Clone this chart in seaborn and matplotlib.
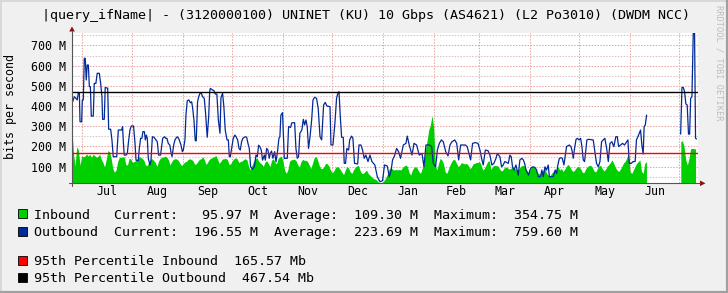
import numpy as np
import pandas as pd
import matplotlib
matplotlib.use("Agg")
import matplotlib.pyplot as plt
import matplotlib.ticker as mticker
from matplotlib.patches import Rectangle, Polygon
from matplotlib.lines import Line2D
import seaborn as sns

# ---------------- data ----------------
title = "|query_ifName| - (3120000100) UNINET (KU) 10 Gbps (AS4621) (L2 Po3010) (DWDM NCC)"
period_start = "2020-07-01"          # day 0 of the series
view_from_day, view_to_day = -5.9, 376.5

month_labels = ["Jul", "Aug", "Sep", "Oct", "Nov", "Dec",
                "Jan", "Feb", "Mar", "Apr", "May", "Jun"]

# inbound, daily averages in Mbit/s (two segments, gap in June)
inbound_a_first_day = -6
inbound_a = [
    298, 166, 103, 199, 182, 106,
    152, 149, 152, 162, 152, 161, 146, 161, 154, 146,
    151, 161, 136, 120, 98, 136, 179, 174, 141, 91,
    72, 83, 125, 146, 146, 147, 149, 110, 108, 141,
    138, 120, 125, 129, 141, 149, 146, 141, 131, 108,
    105, 120, 136, 139, 131, 120, 101, 128, 141, 147,
    147, 152, 147, 133, 108, 125, 136, 139, 138, 131,
    116, 105, 114, 123, 126, 135, 139, 135, 129, 111,
    114, 126, 136, 139, 149, 133, 110, 123, 136, 142,
    146, 149, 156, 136, 116, 126, 138, 139, 141, 135,
    111, 113, 129, 139, 144, 138, 120, 125, 128, 135,
    139, 133, 100, 83, 106, 126, 138, 144, 129, 118,
    113, 101, 123, 129, 116, 100, 131, 139, 123, 113,
    141, 147, 152,
    126, 83, 66, 86, 128, 133, 136,
    136, 129, 108, 98, 125, 136, 131, 131, 125, 108,
    91, 116, 143, 151, 136, 108, 91, 90, 100, 116,
    114, 103, 83, 70, 78, 95, 100, 96, 85, 72,
    60, 83, 100, 93, 75, 66, 83, 96, 103, 106,
    83, 66, 66, 75, 83, 66, 58, 50, 42, 39,
    34, 25, 20, 20, 25, 34, 50, 66, 91, 95,
    86, 83, 86, 83, 86, 83, 96, 103, 108, 100,
    70, 58, 83, 96, 100, 91, 75, 66, 91, 108,
    182, 228, 281, 306, 352, 298, 108, 83, 116, 141,
    133, 116, 75, 66, 86, 108, 125, 136, 133, 116,
    100, 108, 120, 116, 113, 116, 108, 91, 96, 113,
    116, 120, 120, 125, 108, 83, 91, 108, 125, 129,
    86, 100, 106, 105, 105, 93, 80, 80, 93, 98,
    95, 88, 90, 98, 95, 88, 83, 86, 100, 105,
    106, 96, 80, 70, 86, 100, 101, 90, 73, 66,
    63, 75, 83, 91, 66, 58, 53, 66, 75, 83,
    83, 100, 83, 91, 76, 86, 100, 111, 103, 86,
    76, 81, 93, 101, 98, 86, 70, 72, 91, 100,
    106, 106, 95, 78, 73, 90, 103, 106, 90, 78,
    86, 101, 110, 120, 133, 116, 96, 83, 76, 86,
    101, 118, 126, 143, 166, 75, 66, 83, 100, 116,
    125, 133, 76, 66, 116, 125,
]
inbound_b_first_day = 366
inbound_b = [224, 228, 199, 133, 108, 141, 189, 190, 189, 187]

# outbound, (day, Mbit/s) vertices of the line, two segments
out_days_a = [
    -5.5, -4.5, -3.5, -2.7, -2.1, -1.4, -1.0, 0.0, 0.4, 1.0, 1.6, 2.2, 2.8, 3.4, 4.1, 4.7,
    5.3, 5.9, 7.1, 7.7, 8.7, 9.5, 10.8, 11.6, 12.4, 12.8, 13.8, 14.4, 15.9, 16.5, 17.7,
    18.5, 19.3, 21.4, 22.4, 24.4, 25.0, 25.4, 26.0, 27.1, 27.9, 28.5, 29.5, 30.3, 31.7,
    32.6, 33.2, 34.6, 35.2, 36.0, 36.8, 37.4, 38.3, 38.9, 39.5, 40.1, 40.7, 41.7, 42.3,
    43.2, 44.2, 45.4, 46.2, 47.0, 48.2, 49.5, 50.7, 51.3, 52.1, 52.9, 53.9, 54.5, 55.2,
    56.2, 57.0, 57.6, 58.4, 59.2, 60.0, 60.7, 61.5, 62.1, 63.1, 63.7, 64.5, 65.5, 66.4,
    67.2, 67.8, 68.6, 69.4, 70.0, 70.8, 71.5, 72.3, 73.1, 73.9, 74.9, 75.7, 76.7, 77.6,
    78.2, 78.6, 80.0, 80.8, 81.6, 82.6, 83.5, 84.5, 85.1, 86.1, 86.9, 87.7, 88.8, 89.6,
    90.2, 90.8, 91.6, 92.6, 93.6, 94.3, 95.3, 96.1, 96.9, 97.7, 98.5, 99.3, 100.2, 100.8,
    101.6, 102.4, 103.2, 104.4, 105.5, 106.5, 107.3, 108.1, 108.9, 109.7, 110.5, 111.6,
    112.2, 113.0, 113.8, 114.6, 115.2, 116.0, 116.8, 117.9, 118.7, 119.5, 120.5, 121.1,
    121.7,
    122.7, 123.8, 125.6, 126.4, 127.6, 128.4, 130.1, 130.9, 131.7, 132.5, 133.3, 134.5,
    135.4, 136.2, 137.0, 137.8, 138.6, 139.5, 140.5, 141.3, 142.3, 143.5, 144.5, 145.6,
    146.6, 147.8, 148.8, 149.8, 151.7, 152.3, 153.5, 154.7, 155.7, 156.5, 157.2, 158.0,
    158.8, 159.8, 160.4, 161.2, 162.0, 163.1, 163.7, 164.9, 165.7, 166.7, 168.6, 169.4,
    170.6, 171.6, 172.6, 173.6, 174.9, 176.1, 177.3, 179.1, 180.6, 182.2, 183.8, 185.0,
    186.7, 187.9, 189.1, 189.9, 191.1, 192.4, 193.6, 194.8, 196.5, 198.1, 198.9, 200.1,
    201.8, 203.0, 204.6, 206.2, 207.9, 209.1, 210.3, 212.4, 213.8, 214.8, 216.2, 217.3,
    218.5, 219.7, 220.9, 222.4, 223.8, 225.0, 226.2, 227.9, 229.1, 230.3, 231.5, 234.4,
    235.5, 236.8, 237.6, 238.8, 240.4, 242.1, 243.3, 244.3, 245.3, 246.6, 248.2,
    249.4, 250.6, 251.8, 253.1, 253.9, 254.7, 255.5, 256.5, 257.5, 258.5, 260.6, 261.6,
    262.4, 263.2, 264.1, 265.3, 266.7, 267.7, 268.9, 269.8, 270.6, 271.4, 273.0, 273.8,
    274.8, 275.9, 276.9, 277.9, 278.9, 280.3, 281.1, 282.0, 283.0, 284.0, 285.0, 285.7,
    288.1, 289.3, 290.1, 290.9, 291.8, 292.8, 293.6, 294.6, 296.2, 296.8, 297.9, 298.9,
    299.7, 300.3, 301.1, 302.0, 302.8, 303.8, 304.8, 305.6, 306.4, 307.2, 308.0, 308.6,
    309.7, 312.5, 313.5, 314.5, 315.6, 316.6, 317.6, 318.6, 319.6, 320.7, 321.7, 322.7,
    323.9, 325.1, 326.3, 327.2, 328.0, 329.2, 330.4, 331.6, 332.9, 333.7, 334.5, 335.7,
    336.9, 338.1, 338.9, 339.8, 340.6, 341.4, 342.2, 343.0, 343.6, 344.3, 345.1,
]
out_vals_a = [
    421, 446, 438, 430, 463, 463, 322, 322, 430, 430, 636, 636, 529, 603, 603, 496,
    496, 350, 350, 512, 512, 562, 562, 512, 446, 334, 334, 492, 488, 285, 285,
    232, 149, 149, 281, 281, 298, 232, 157, 157, 165, 215, 281, 301, 301,
    215, 132, 129, 190, 240, 240, 273, 273, 232, 256, 240, 141, 108, 125,
    248, 245, 232, 223, 157, 157, 240, 248, 240, 240, 215, 206, 174, 149,
    206, 232, 240, 248, 240, 223, 206, 174, 182, 232, 355, 426, 430, 416,
    421, 389, 331, 228, 228, 421, 446, 463, 463, 446, 438, 364, 245, 348,
    471, 487, 479, 476, 459, 459, 331, 265, 442, 463, 393, 281, 232, 232,
    149, 149, 190, 240, 256, 248, 232, 190, 182, 223, 240, 245, 248, 245,
    215, 190, 100, 86, 100, 157, 149, 206, 198, 182, 132, 157,
    132, 190, 182, 141, 165, 177, 141, 174, 124, 165, 240, 248,
    355,
    367, 141, 141, 298, 294, 317, 317, 190, 141, 149, 265, 281,
    334, 306, 331, 298, 190, 248, 331, 430, 443, 438, 388, 248,
    232, 405, 418, 400, 397, 207, 207, 314, 438, 463, 471, 347,
    245, 245, 116, 116, 190, 182, 232, 251, 240, 116, 113, 207,
    207, 182, 141, 157, 125, 157, 125, 108, 50, 25, 30, 108,
    103, 50, 83, 133, 153, 190, 174, 141, 207, 215, 251, 207,
    157, 215, 207, 157, 165, 99, 207, 207, 199, 116, 99, 182,
    215, 232, 223, 174, 153, 207, 223, 232, 215, 133, 207, 207,
    199, 157, 133, 215, 219, 215, 182, 141, 108, 182, 179,
    157, 108, 116, 141, 165, 157, 149, 99, 108, 125, 116, 157,
    149, 99, 83, 108, 58, 133, 141, 133, 116, 83, 58, 83,
    96, 99, 96, 83, 50, 50, 83, 50, 99, 83, 108, 50,
    50, 83, 66, 108, 141, 144, 141, 108, 199, 202, 207, 199,
    174, 141, 190, 235, 240, 232, 240, 199, 133, 125, 182, 232,
    235, 232, 174, 116, 99, 125, 223, 232, 240, 190, 125, 215,
    223, 199, 248, 248, 199, 207, 215, 207, 223, 232, 116, 116,
    125, 125, 232, 248, 265, 281, 207, 162, 298, 306, 355,
]
out_days_b = [365.9, 366.7, 367.5, 368.3, 369.1, 369.9, 370.7, 371.4, 372.0, 372.8,
              373.6, 374.4, 375.0, 375.6]
out_vals_b = [261, 492, 492, 471, 410, 405, 261, 261, 438, 446, 760, 760, 240, 237]

p95_inbound = 165.57
p95_outbound = 467.54
inbound_stats = (95.97, 109.30, 354.75)    # current, average, maximum
outbound_stats = (196.55, 223.69, 759.60)
y_view = (17.3, 763.0)
y_label_ticks = [100, 200, 300, 400, 500, 600, 700]
y_minor_ticks = [50, 150, 250, 350, 450, 550, 650, 750]

# ---------------- figure ----------------
W, H, DPI = 728, 293, 100
MONO = "DejaVu Sans Mono"
BG = "#F0F0F0"
GREEN, BLUE, RED = "#00CF00", "#002A97", "#FF0000"

sns.set_theme(style="white")
plt.rcParams["font.family"] = [MONO, "DejaVu Sans"]


def fx(px):
    return px / W


def fy(py):
    return 1 - py / H


t0 = pd.Timestamp(period_start)


def to_date(days):
    return t0 + pd.to_timedelta(np.asarray(days, dtype=float), unit="D")


fig = plt.figure(figsize=(W / DPI, H / DPI), dpi=DPI, facecolor=BG)
AX_L, AX_R, AX_T, AX_B = 72, 698, 32.7, 183.3
ax = fig.add_axes([fx(AX_L), fy(AX_B), (AX_R - AX_L) / W, (AX_B - AX_T) / H])
ax.set_facecolor("white")

# inbound area
for first, vals in ((inbound_a_first_day, inbound_a), (inbound_b_first_day, inbound_b)):
    d = to_date(np.arange(first, first + len(vals)))
    ax.fill_between(d, y_view[0], vals, color=GREEN, linewidth=0, zorder=2)

# outbound line
out_df = pd.concat([
    pd.DataFrame({"date": to_date(out_days_a), "mbps": out_vals_a, "seg": 0}),
    pd.DataFrame({"date": to_date(out_days_b), "mbps": out_vals_b, "seg": 1}),
])
sns.lineplot(data=out_df, x="date", y="mbps", units="seg", estimator=None,
             sort=False, color=BLUE, linewidth=0.9, ax=ax, zorder=3, legend=False)

# percentile rules
ax.axhline(p95_inbound, color=RED, lw=1.0, zorder=4)
ax.axhline(p95_outbound, color="black", lw=1.0, zorder=4)

ax.set_xlim(to_date(view_from_day), to_date(view_to_day))
ax.set_ylim(*y_view)

# grid
month_starts = pd.date_range(t0, periods=len(month_labels) + 1, freq="MS")
mid_months = [a + (b - a) / 2 for a, b in zip(month_starts[:-1], month_starts[1:])]
ax.xaxis.set_major_locator(mticker.FixedLocator(matplotlib.dates.date2num(month_starts)))
ax.xaxis.set_major_formatter(mticker.NullFormatter())
ax.xaxis.set_minor_locator(mticker.FixedLocator(matplotlib.dates.date2num(mid_months)))
ax.xaxis.set_minor_formatter(mticker.FixedFormatter(month_labels))
ax.yaxis.set_major_locator(mticker.FixedLocator(y_label_ticks))
ax.yaxis.set_major_formatter(mticker.FuncFormatter(lambda v, p: f"{v:.0f} M"))
ax.yaxis.set_minor_locator(mticker.FixedLocator(y_minor_ticks))

dot = (0, (1.4, 1.4))
ax.grid(True, which="major", axis="both", color="#E9A5A5", lw=0.75, ls=dot, zorder=1)
ax.grid(True, which="minor", axis="y", color="#DCC4C4", lw=0.75, ls=dot, zorder=1)
ax.grid(False, which="minor", axis="x")
ax.set_axisbelow(True)

ax.tick_params(axis="x", which="major", length=2.5, width=0.7, color="#E07070", direction="out")
ax.tick_params(axis="x", which="minor", length=0, pad=1.5, labelsize=8.4, labelcolor="black")
ax.tick_params(axis="y", which="both", length=0, pad=4.2, labelsize=8.4, labelcolor="black")
for lab in ax.get_xticklabels(minor=True) + ax.get_yticklabels():
    lab.set_fontfamily(MONO)
ax.set_xlabel("")
ax.set_ylabel("")
for s in ax.spines.values():
    s.set_visible(False)

# axis lines and arrows (figure pixel coordinates)
AXC = "#555555"
fig.add_artist(Line2D([fx(69), fx(700)], [fy(AX_B), fy(AX_B)], color=AXC, lw=0.8))
fig.add_artist(Line2D([fx(AX_L), fx(AX_L)], [fy(186), fy(31)], color=AXC, lw=0.8))
ARC = "#8B1010"
fig.add_artist(Polygon([[fx(AX_L), fy(26.5)], [fx(AX_L - 2.8), fy(31.5)], [fx(AX_L + 2.8), fy(31.5)]],
                       closed=True, color=ARC, lw=0))
fig.add_artist(Polygon([[fx(705.5), fy(AX_B)], [fx(700), fy(AX_B - 2.8)], [fx(700), fy(AX_B + 2.8)]],
                       closed=True, color=ARC, lw=0))

# texts
fig.text(fx(366), fy(19), title, ha="center", va="baseline", fontsize=9.6,
         family=MONO, color="black")
fig.text(fx(11), fy(106.5), "bits per second", rotation=90, ha="center", va="center",
         fontsize=8.4, family=MONO, color="black")
fig.text(fx(719), fy(5), "RRDTOOL / TOBI OETIKER", rotation=270, ha="center", va="top",
         fontsize=6.2, family=MONO, color="#BDBDBD")


def stat_line(name, st):
    return (f"{name:<10}Current:{st[0]:>8.2f} M  Average:{st[1]:>8.2f} M"
            f"  Maximum:{st[2]:>8.2f} M")


legend_rows = [
    (213.7, GREEN, stat_line("Inbound", inbound_stats)),
    (231.0, BLUE, stat_line("Outbound", outbound_stats)),
    (260.5, RED, f"95th Percentile Inbound  {p95_inbound:.2f} Mb"),
    (277.5, "black", f"95th Percentile Outbound  {p95_outbound:.2f} Mb"),
]
for yc, col, txt in legend_rows:
    fig.add_artist(Rectangle((fx(18), fy(yc + 4.5)), 9 / W, 9 / H, facecolor=col,
                             edgecolor="black", lw=0.6))
    fig.text(fx(34), fy(yc + 4.8), txt, ha="left", va="baseline", fontsize=9.6,
             family=MONO, color="black")

# 3D-style frame
fig.add_artist(Line2D([0, 1], [fy(0.5), fy(0.5)], color="#D8D8D8", lw=1.4))
fig.add_artist(Line2D([fx(0.5), fx(0.5)], [0, 1], color="#D8D8D8", lw=1.4))
fig.add_artist(Line2D([0, 1], [fy(292), fy(292)], color="#A0A0A0", lw=1.6))
fig.add_artist(Line2D([fx(727), fx(727)], [0, 1], color="#A0A0A0", lw=1.6))

fig.savefig("out.png", dpi=DPI, facecolor=BG)
